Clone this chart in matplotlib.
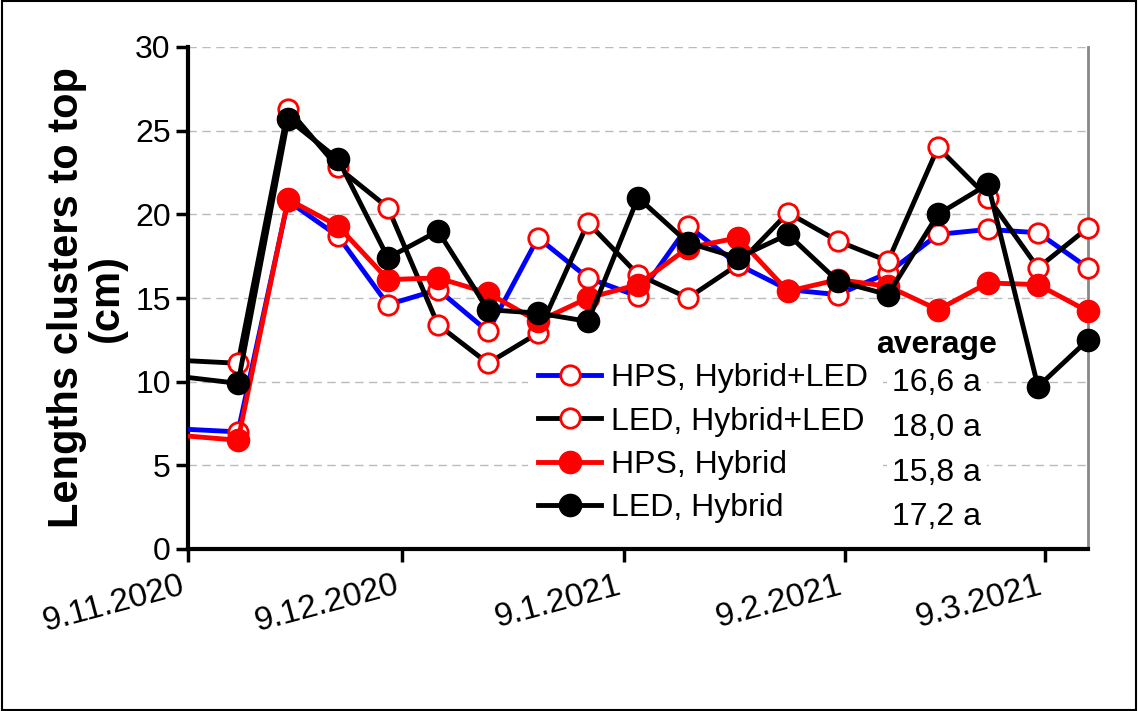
import numpy as np
import matplotlib
matplotlib.use("Agg")
import matplotlib.pyplot as plt
import matplotlib.dates as mdates
import datetime as dt

plt.rcParams['font.family'] = ['Liberation Sans', 'DejaVu Sans']

# weekly sampling dates; the first one lies left of the visible range
dates = [dt.date(2020, 11, 2)] + [dt.date(2020, 11, 16) + dt.timedelta(days=7 * i) for i in range(18)]

hps_hyb_led = [7.3, 7.0, 20.8, 18.7, 14.6, 15.5, 13.0, 18.6, 16.2, 15.1,
               19.3, 17.0, 15.5, 15.2, 16.5, 18.8, 19.1, 18.9, 16.8]
led_hyb_led = [11.4, 11.1, 26.3, 22.8, 20.4, 13.4, 11.1, 12.9, 19.5, 16.4,
               15.0, 17.0, 20.1, 18.4, 17.2, 24.0, 21.0, 16.8, 19.2]
hps_hyb = [7.0, 6.5, 20.9, 19.3, 16.1, 16.2, 15.3, 13.6, 15.0, 15.8,
           18.0, 18.6, 15.4, 16.1, 15.7, 14.3, 15.9, 15.8, 14.2]
led_hyb = [10.6, 9.9, 25.7, 23.3, 17.4, 19.0, 14.3, 14.1, 13.6, 21.0,
           18.3, 17.4, 18.8, 16.0, 15.2, 20.0, 21.8, 9.7, 12.5]

labels = ['HPS, Hybrid+LED', 'LED, Hybrid+LED', 'HPS, Hybrid', 'LED, Hybrid']
averages = ['16,6 a', '18,0 a', '15,8 a', '17,2 a']
tick_dates = [dt.date(2020, 11, 9), dt.date(2020, 12, 9), dt.date(2021, 1, 9),
              dt.date(2021, 2, 9), dt.date(2021, 3, 9)]

fig = plt.figure(figsize=(11.38, 7.11), dpi=100)
ax = fig.add_axes([188 / 1138, 1 - 549 / 711, 900 / 1138, 502 / 711])
fig.patches.append(plt.Rectangle((0.002, 0.002), 0.996, 0.996, transform=fig.transFigure,
                                 fill=False, edgecolor='black', lw=1.5))

ms = 14
styles = [
    (hps_hyb_led, dict(color='blue', ms=ms, mfc='white', mec='red', mew=2), 3),
    (led_hyb_led, dict(color='black', ms=ms, mfc='white', mec='red', mew=2), 3),
    (hps_hyb, dict(color='red', ms=ms + 2, mfc='red', mec='red'), 4),
    (led_hyb, dict(color='black', ms=ms + 2, mfc='black', mec='black'), 5),
]
for (vals, st, z), lab in zip(styles, labels):
    # segment entering from the left edge (clipped), then the visible points
    ax.plot(dates[:2], vals[:2], '-', color=st['color'], lw=3.5, zorder=z)
    ax.plot(dates[1:], vals[1:], '-o', lw=3.5, label=lab, zorder=z, clip_on=False, **st)

ax.set_xlim(dt.date(2020, 11, 9), dt.date(2021, 3, 15))
ax.set_ylim(0, 30)
ax.set_yticks(range(0, 31, 5))
ax.set_xticks(tick_dates)
ax.xaxis.set_major_formatter(mdates.DateFormatter('%-d.%-m.%Y'))
ax.yaxis.grid(True, ls=(0, (6, 4)), color='#bbbbbb', lw=1)
ax.set_axisbelow(True)
ax.tick_params(axis='y', direction='out', length=9, width=2.5, labelsize=23)
ax.tick_params(axis='x', direction='out', length=9, width=2.5, labelsize=24, pad=6)
for lbl in ax.get_xticklabels():
    lbl.set_rotation(15)
    lbl.set_ha('right')
ax.spines['left'].set_linewidth(3)
ax.spines['bottom'].set_linewidth(3)
ax.spines['top'].set_visible(False)
ax.spines['right'].set_color('#888888')
ax.spines['right'].set_linewidth(2)

ax.set_ylabel('Lengths clusters to top\n(cm)', fontsize=30, fontweight='bold', labelpad=6,
              linespacing=1.0)

leg = ax.legend(loc='lower left', bbox_to_anchor=(0.36, 0.0), fontsize=23, frameon=True,
                edgecolor='none', framealpha=1, fancybox=False, handlelength=2.0,
                handletextpad=0.3, labelspacing=0.42, borderpad=0.3)
leg.set_zorder(6)
ax.text(0.832, 0.406, 'average', transform=ax.transAxes, fontsize=23, fontweight='bold',
        ha='center', va='center', zorder=7,
        bbox=dict(facecolor='white', edgecolor='none', pad=1))
for i, a in enumerate(averages):
    ax.text(0.832, 0.33 - i * 0.089, a, transform=ax.transAxes, fontsize=23,
            ha='center', va='center', zorder=7,
            bbox=dict(facecolor='white', edgecolor='none', pad=4))

fig.savefig('out.png', dpi=100)
